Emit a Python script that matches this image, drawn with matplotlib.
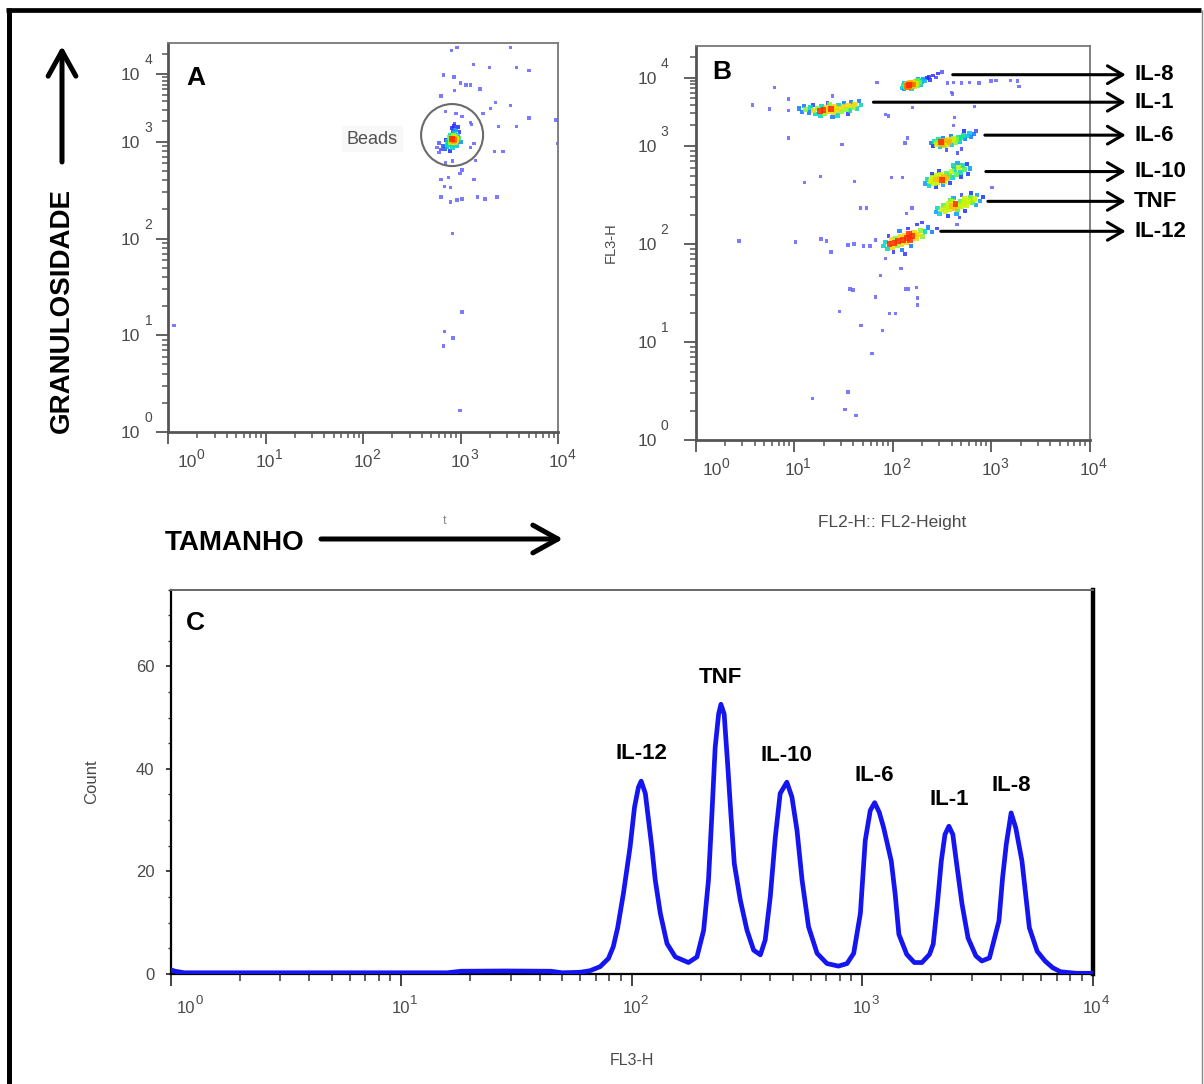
import numpy as np
import matplotlib
matplotlib.use("Agg")
import matplotlib.pyplot as plt
from matplotlib import ticker, transforms
from matplotlib.colors import LinearSegmentedColormap
from matplotlib.lines import Line2D
from matplotlib.patches import Circle, FancyArrowPatch

plt.rcParams['font.family'] = ['Liberation Sans', 'DejaVu Sans']

# ---------------------------------------------------------------------------
# data (log10 units for the dot plots and the histogram channel)
# ---------------------------------------------------------------------------

# A: bead gate, FSC x SSC
beads_core = np.array([
    [2.93, 3.03], [2.94, 3.05], [2.92, 3.01], [2.95, 3.07], [2.91, 3.04], [2.93, 3.09],
    [2.96, 3.02], [2.90, 2.99], [2.94, 3.12], [2.92, 3.15], [2.95, 3.18], [2.91, 3.20],
    [2.93, 3.24], [2.90, 3.10], [2.97, 3.10], [2.89, 3.06], [2.88, 2.97], [2.86, 2.95],
    [2.84, 2.93], [2.87, 3.01], [2.82, 2.96], [2.80, 2.92], [2.98, 3.05], [3.00, 3.00],
    [2.96, 2.96], [2.89, 2.91], [2.85, 3.03], [2.94, 3.27], [2.97, 3.22], [2.99, 3.14],
    [2.92, 2.94], [2.78, 2.99], [2.95, 2.99], [2.91, 3.07], [2.94, 3.00], [2.92, 3.05],
    [2.96, 3.04], [2.93, 2.98],
])
beads_other = np.array([
    [2.908, 4.35], [2.963, 4.39], [3.515, 4.39], [3.136, 4.14], [3.30, 4.10], [3.573, 4.10],
    [3.703, 4.05], [2.826, 3.99], [2.932, 3.96], [2.998, 3.87], [3.058, 3.84], [3.105, 3.84],
    [2.94, 3.76], [3.199, 3.78], [2.798, 3.675], [3.356, 3.58], [3.515, 3.54], [3.31, 3.49],
    [2.849, 3.45], [3.231, 3.42], [3.703, 3.35], [3.978, 3.32], [3.388, 3.23], [3.577, 3.23],
    [3.101, 3.29], [3.14, 2.98], [3.349, 2.90], [3.436, 2.90], [3.998, 2.98], [3.153, 2.81],
    [2.995, 2.67], [3.14, 2.61], [2.798, 2.61], [2.837, 2.54], [2.897, 2.53], [2.798, 2.43],
    [2.897, 2.38], [2.963, 2.40], [3.172, 2.43], [3.25, 2.41], [3.373, 2.43], [3.015, 2.41],
    [2.916, 2.05], [3.015, 1.24], [2.837, 1.04], [2.924, 0.97], [2.826, 0.89], [2.995, 0.22],
    [0.063, 1.10], [2.955, 3.42], [3.015, 3.37], [3.113, 3.26], [2.778, 2.89], [2.759, 2.94],
    [2.849, 2.78], [2.916, 2.80], [3.105, 2.94], [3.015, 2.71], [2.877, 2.63],
])
gate_center = (820, 1260)   # FSC, SSC of the bead gate
gate_radius_in = 0.31

# B: FL2-H x FL3-H, one bead population per cytokine
il8_pts = np.array([
    [2.10, 3.85], [2.11, 3.89], [2.12, 3.83], [2.13, 3.87], [2.14, 3.90], [2.14, 3.85],
    [2.15, 3.88], [2.16, 3.86], [2.16, 3.91], [2.17, 3.89], [2.18, 3.87], [2.18, 3.92],
    [2.19, 3.90], [2.20, 3.88], [2.20, 3.93], [2.21, 3.90], [2.22, 3.91], [2.22, 3.87],
    [2.23, 3.94], [2.24, 3.91], [2.25, 3.89], [2.25, 3.95], [2.27, 3.93], [2.28, 3.96],
    [2.30, 3.94], [2.31, 3.98], [2.33, 3.95], [2.35, 3.99], [2.37, 4.01], [2.38, 3.96],
    [2.41, 4.03], [2.44, 4.00], [2.46, 4.06], [2.50, 4.08], [2.19, 3.84], [2.26, 3.98],
    [2.12, 3.92], [2.29, 3.90],
])
il8_tail = np.array([
    [2.56, 3.92], [2.62, 3.93], [2.70, 3.92], [2.78, 3.93], [2.88, 3.92], [3.05, 3.96],
    [3.20, 3.96], [3.27, 3.95], [2.60, 3.78],
])
il1_pts = np.array([
    [1.05, 3.55], [1.08, 3.50], [1.10, 3.58], [1.12, 3.53], [1.15, 3.49], [1.17, 3.56],
    [1.20, 3.52], [1.22, 3.47], [1.24, 3.55], [1.26, 3.51], [1.28, 3.58], [1.30, 3.53],
    [1.31, 3.48], [1.33, 3.56], [1.35, 3.51], [1.36, 3.60], [1.38, 3.54], [1.40, 3.49],
    [1.41, 3.57], [1.43, 3.52], [1.45, 3.60], [1.46, 3.55], [1.48, 3.50], [1.50, 3.58],
    [1.51, 3.63], [1.53, 3.54], [1.55, 3.59], [1.57, 3.52], [1.58, 3.64], [1.60, 3.57],
    [1.62, 3.61], [1.64, 3.55], [1.66, 3.66], [1.68, 3.60], [1.27, 3.45], [1.44, 3.45],
    [1.34, 3.63], [1.19, 3.60], [1.39, 3.43], [1.55, 3.47],
])
il6_pts = np.array([
    [2.39, 3.04], [2.41, 3.00], [2.43, 3.07], [2.45, 3.02], [2.46, 3.05], [2.48, 2.99],
    [2.49, 3.06], [2.50, 3.03], [2.52, 3.08], [2.53, 3.01], [2.54, 3.05], [2.56, 3.03],
    [2.57, 3.09], [2.58, 3.06], [2.60, 3.02], [2.61, 3.08], [2.62, 3.11], [2.64, 3.05],
    [2.65, 3.10], [2.67, 3.13], [2.68, 3.07], [2.70, 3.12], [2.72, 3.16], [2.74, 3.10],
    [2.76, 3.15], [2.78, 3.19], [2.80, 3.13], [2.83, 3.18], [2.85, 3.22], [2.55, 2.96],
    [2.66, 2.93], [2.62, 3.30], [2.70, 2.97], [2.51, 3.12], [2.59, 3.14], [2.73, 3.22],
    [2.47, 3.10],
])
il10_pts = np.array([
    [2.33, 2.62], [2.35, 2.66], [2.37, 2.60], [2.39, 2.64], [2.41, 2.68], [2.42, 2.62],
    [2.44, 2.66], [2.45, 2.70], [2.46, 2.63], [2.48, 2.67], [2.49, 2.71], [2.50, 2.65],
    [2.52, 2.69], [2.53, 2.64], [2.55, 2.72], [2.56, 2.67], [2.58, 2.70], [2.60, 2.74],
    [2.61, 2.68], [2.63, 2.76], [2.65, 2.71], [2.67, 2.78], [2.69, 2.73], [2.71, 2.80],
    [2.73, 2.76], [2.76, 2.82], [2.79, 2.77], [2.44, 2.58], [2.51, 2.60], [2.58, 2.62],
    [2.66, 2.83], [2.70, 2.68], [2.40, 2.72], [2.47, 2.75], [2.62, 2.80], [2.77, 2.72],
])
tnf_pts = np.array([
    [2.44, 2.33], [2.46, 2.37], [2.48, 2.31], [2.50, 2.35], [2.52, 2.39], [2.54, 2.33],
    [2.55, 2.37], [2.57, 2.41], [2.58, 2.35], [2.60, 2.39], [2.61, 2.43], [2.63, 2.37],
    [2.64, 2.41], [2.66, 2.35], [2.67, 2.39], [2.69, 2.43], [2.70, 2.38], [2.72, 2.42],
    [2.73, 2.46], [2.75, 2.40], [2.77, 2.44], [2.79, 2.48], [2.81, 2.42], [2.83, 2.46],
    [2.86, 2.50], [2.89, 2.44], [2.92, 2.48], [2.56, 2.29], [2.65, 2.31], [2.74, 2.34],
    [2.62, 2.47], [2.70, 2.50], [2.80, 2.52], [2.59, 2.45], [2.68, 2.27], [2.85, 2.40],
])
il12_pts = np.array([
    [1.91, 1.98], [1.93, 2.02], [1.95, 1.95], [1.97, 2.00], [1.99, 2.04], [2.00, 1.97],
    [2.02, 2.01], [2.03, 2.06], [2.05, 1.99], [2.06, 2.03], [2.08, 2.07], [2.09, 2.00],
    [2.11, 2.04], [2.12, 2.09], [2.14, 2.02], [2.15, 2.06], [2.17, 2.10], [2.18, 2.04],
    [2.20, 2.08], [2.22, 2.12], [2.24, 2.06], [2.26, 2.10], [2.28, 2.14], [2.30, 2.08],
    [2.33, 2.13], [2.36, 2.17], [2.40, 2.12], [2.45, 2.16], [2.01, 1.92], [2.10, 1.94],
    [2.19, 1.98], [2.07, 2.13], [2.16, 2.16], [2.25, 2.20], [1.96, 2.08], [2.13, 1.90],
    [2.30, 2.22],
])
b_other = np.array([
    [0.805, 3.858], [0.577, 3.60], [0.754, 3.54], [0.942, 3.69], [0.942, 3.52], [1.393, 3.73],
    [0.942, 3.12], [1.487, 3.02], [1.844, 3.93], [1.93, 3.46], [1.96, 3.44], [2.205, 3.56],
    [2.609, 3.76], [2.833, 3.58], [3.284, 3.87], [2.999, 3.95], [2.154, 3.12], [2.127, 3.045],
    [1.105, 2.63], [1.271, 2.69], [1.614, 2.64], [1.989, 2.68], [2.099, 2.68], [3.009, 2.58],
    [1.675, 2.37], [1.734, 2.37], [2.144, 2.31], [2.197, 2.37], [2.656, 2.20], [0.44, 2.03],
    [1.016, 2.02], [1.275, 2.05], [1.329, 2.03], [1.374, 1.92], [1.55, 1.99], [1.609, 2.00],
    [1.706, 1.98], [1.773, 1.98], [1.828, 2.04], [1.93, 1.85], [2.088, 1.75], [1.569, 1.54],
    [1.60, 1.53], [2.133, 1.54], [2.164, 1.54], [2.245, 1.555], [2.251, 1.45], [2.251, 1.38],
    [1.828, 1.46], [1.879, 1.68], [1.459, 1.31], [1.97, 1.29], [2.028, 1.29], [1.679, 1.17],
    [1.90, 1.12], [1.793, 0.885], [1.188, 0.424], [1.55, 0.49], [1.518, 0.31], [1.628, 0.25],
    [2.628, 3.42],
])
b_names = ['IL-8', 'IL-1', 'IL-6', 'IL-10', 'TNF', 'IL-12']
b_arrow_from = [409, 64, 867, 887, 930, 309]     # FL2-H where each arrow starts
b_arrow_level = [11000, 4370, 1445, 550, 273, 135]  # FL3-H of each arrow

# C: FL3-H histogram
hist_log = [0.00, 0.02, 0.06, 0.60, 1.20, 1.26, 1.45, 1.65, 1.70, 1.777, 1.82, 1.864, 1.90,
            1.921, 1.94, 1.965, 1.994, 2.013, 2.030, 2.042, 2.060, 2.074, 2.088, 2.103, 2.125,
            2.154, 2.190, 2.247, 2.284, 2.313, 2.334, 2.349, 2.363, 2.378, 2.388, 2.402, 2.417,
            2.431, 2.446, 2.472, 2.501, 2.530, 2.559, 2.580, 2.602, 2.624, 2.645, 2.674, 2.696,
            2.718, 2.740, 2.768, 2.805, 2.848, 2.898, 2.935, 2.964, 2.993, 3.014, 3.036, 3.055,
            3.075, 3.094, 3.127, 3.144, 3.160, 3.194, 3.227, 3.260, 3.293, 3.309, 3.327, 3.344,
            3.360, 3.377, 3.394, 3.409, 3.434, 3.460, 3.494, 3.520, 3.553, 3.594, 3.610, 3.626,
            3.647, 3.667, 3.694, 3.710, 3.726, 3.760, 3.794, 3.827, 3.861, 3.930, 4.000]
hist_count = [0.8, 0.5, 0.2, 0.2, 0.2, 0.5, 0.55, 0.5, 0.2, 0.3, 0.6, 1.4, 3.0,
              5.3, 9.0, 15.7, 24.8, 32.5, 36.4, 37.6, 35.2, 30.0, 24.8, 18.3, 11.8,
              5.9, 3.3, 2.2, 3.3, 8.5, 18.3, 31.3, 44.2, 50.7, 52.6, 50.7, 41.0,
              31.3, 21.5, 14.4, 8.5, 4.6, 3.7, 6.6, 15.0, 26.7, 35.2, 37.4, 34.5,
              28.0, 18.3, 9.2, 4.0, 2.0, 1.5, 2.0, 4.0, 11.8, 26.0, 31.9, 33.4,
              31.5, 28.5, 22.0, 15.5, 7.7, 3.8, 2.2, 2.2, 3.8, 5.8, 13.6, 22.0,
              27.2, 28.8, 27.2, 22.0, 13.6, 7.0, 3.5, 2.5, 3.1, 10.3, 18.8, 25.3,
              31.4, 28.5, 22.0, 15.5, 9.0, 4.4, 2.5, 1.2, 0.4, 0.1, 0.1]
c_names = ['IL-12', 'TNF', 'IL-10', 'IL-6', 'IL-1', 'IL-8']

# ---------------------------------------------------------------------------
W, H = 1204, 1084
PT = 0.72           # points per pixel at 100 dpi
GRAY = '#4a4a4a'
TOP_SQUEEZE = 0.7   # the decade above 10^3 is drawn shorter on the FL3/SSC axes
DECADES = [1, 10, 100, 1000, 10000]


def fwd(v):
    lv = np.log10(np.clip(v, 1e-3, None))
    return np.where(lv <= 3, lv, 3 + TOP_SQUEEZE * (lv - 3))


def inv(d):
    return 10 ** np.where(d <= 3, d, 3 + (d - 3) / TOP_SQUEEZE)


def px(x, y):
    return x / W, 1 - y / H


flow_cmap = LinearSegmentedColormap.from_list(
    'flow', ['#6464ff', '#2020ff', '#00b4ff', '#00e890', '#b4ff00', '#ffd000', '#ff2a00'])


def density_scatter(ax, clusters, loose):
    # colour each population by its own local event density
    xs, ys, dens = [], [], []
    for pts in clusters:
        d = pts[:, None, :] - pts[None, :, :]
        n = (np.hypot(d[..., 0], d[..., 1]) < 0.065).sum(axis=1) - 1
        xs.append(pts[:, 0]); ys.append(pts[:, 1]); dens.append((n / n.max()) ** 1.2)
    xs.append(loose[:, 0]); ys.append(loose[:, 1]); dens.append(np.zeros(len(loose)))
    xs, ys, dens = np.concatenate(xs), np.concatenate(ys), np.concatenate(dens)
    order = np.argsort(dens)
    ax.scatter(10 ** xs[order], 10 ** ys[order], c=flow_cmap(dens[order]),
               s=6 + 12 * dens[order], marker='s', linewidths=0, alpha=0.85, zorder=2)


def shift_xlabels(ax, first_px):
    lab = ax.get_xticklabels()[0]
    lab.set_transform(lab.get_transform() +
                      transforms.ScaledTranslation(first_px / fig.dpi, 0, fig.dpi_scale_trans))


def exponents(ax, axis, dx, dy, size, first_dx=None):
    # "10" comes from the tick label, the exponent is set as a large superscript
    for k, v in enumerate(DECADES):
        if axis == 'x':
            xy, xyc = (v, 0), ax.get_xaxis_transform()
        else:
            xy, xyc = (0, v), ax.get_yaxis_transform()
        off = first_dx if (k == 0 and first_dx is not None) else dx
        ax.annotate(str(k), xy=xy, xycoords=xyc, xytext=(off * PT, dy * PT),
                    textcoords='offset points', ha='left', va='baseline', fontsize=size,
                    color=GRAY, annotation_clip=False)


def log_x(ax):
    ax.set_xscale('log')
    ax.xaxis.set_major_locator(ticker.FixedLocator(DECADES))
    ax.xaxis.set_minor_locator(ticker.FixedLocator(
        [m * 10 ** k for k in range(4) for m in range(2, 10)]))
    ax.xaxis.set_major_formatter(ticker.FixedFormatter(['10'] * 5))
    ax.xaxis.set_minor_formatter(ticker.NullFormatter())
    ax.set_xlim(1, 1e4)


def dot_axes(ax, ypad, xpad):
    log_x(ax)
    ax.set_yscale('function', functions=(fwd, inv))
    ax.yaxis.set_major_locator(ticker.FixedLocator(DECADES))
    ax.yaxis.set_minor_locator(ticker.FixedLocator(
        [m * 10 ** k for k in range(5) for m in range(2, 10) if m * 10 ** k < 10 ** 4.46]))
    ax.yaxis.set_major_formatter(ticker.FixedFormatter(['10'] * 5))
    ax.yaxis.set_minor_formatter(ticker.NullFormatter())
    ax.tick_params(which='major', direction='out', length=8.6, width=1.3, color='#555555',
                   labelcolor=GRAY, labelsize=12.6)
    ax.tick_params(which='minor', direction='out', length=4.5, width=1.1, color='#555555')
    ax.tick_params(axis='y', pad=ypad)
    ax.tick_params(axis='x', pad=xpad)
    for side in ('left', 'bottom'):
        ax.spines[side].set_color('#555555')
        ax.spines[side].set_linewidth(2.0)
    for side in ('top', 'right'):
        ax.spines[side].set_color('#777777')
        ax.spines[side].set_linewidth(1.3)
    ax.set_ylim(1, 10 ** 4.46)


fig = plt.figure(figsize=(W / 100, H / 100), dpi=100)

# ---------------- A -------------------------------------------------------
axA = fig.add_axes([168 / W, 1 - 432 / H, 390 / W, 389 / H])
density_scatter(axA, [beads_core], beads_other)
gate_tr = fig.dpi_scale_trans + transforms.ScaledTranslation(*gate_center, axA.transData)
axA.add_patch(Circle((0, 0), gate_radius_in, transform=gate_tr, fill=False,
                     ec='#6a6a6a', lw=1.5, zorder=3))
axA.text(125, 1100, 'Beads', fontsize=13, color='#505050', ha='center', va='center',
         bbox=dict(boxstyle='square,pad=0.25', fc='#f8f8f8', ec='none'))
dot_axes(axA, ypad=16 * PT, xpad=11.5 * PT)
exponents(axA, 'x', dx=9.5, dy=-27.5, size=10, first_dx=28.5)
exponents(axA, 'y', dx=-23.5, dy=10, size=10)
axA.text(0.072, 0.911, 'A', transform=axA.transAxes, fontsize=19, fontweight='bold',
         ha='center', va='center')
shift_xlabels(axA, 19)

# ---------------- B -------------------------------------------------------
axB = fig.add_axes([695.5 / W, 1 - 440 / H, 394 / W, 394 / H])
density_scatter(axB, [il8_pts, il1_pts, il6_pts, il10_pts, tnf_pts, il12_pts],
                np.vstack([il8_tail, b_other]))
dot_axes(axB, ypad=26.5 * PT, xpad=10.7 * PT)
exponents(axB, 'x', dx=9.5, dy=-27.5, size=10, first_dx=26.5)
exponents(axB, 'y', dx=-35, dy=10, size=10)
axB.set_ylabel('FL3-H', fontsize=10.5, color=GRAY)
axB.yaxis.set_label_coords(-0.197, 0.5)
axB.set_xlabel('FL2-H:: FL2-Height', fontsize=12.5, color=GRAY)
axB.xaxis.set_label_coords(0.5, -0.19)
axB.text(0.067, 0.935, 'B', transform=axB.transAxes, fontsize=19, fontweight='bold',
         ha='center', va='center')
for name, x0, y0 in zip(b_names, b_arrow_from, b_arrow_level):
    axB.annotate('', xy=(1.092, y0), xycoords=axB.get_yaxis_transform(),
                 xytext=(x0, y0), textcoords='data', annotation_clip=False,
                 arrowprops=dict(arrowstyle='->,head_length=0.55,head_width=0.32',
                                 mutation_scale=20, lw=2.2, color='black',
                                 shrinkA=0, shrinkB=0))
    axB.text(1.113, y0, name, transform=axB.get_yaxis_transform(), fontsize=16,
             fontweight='bold', ha='left', va='center')
shift_xlabels(axB, 17)

# ---------------- C -------------------------------------------------------
axC = fig.add_axes([170.5 / W, 1 - 973.8 / H, 922 / W, 384.3 / H])
hx = 10 ** np.array(hist_log)
hy = np.array(hist_count)
axC.plot(hx, hy, color='#1515f2', lw=3.4, solid_joinstyle='round', zorder=3)
log_x(axC)
axC.set_ylim(0, 75)
axC.yaxis.set_major_locator(ticker.FixedLocator([0, 20, 40, 60]))
axC.yaxis.set_minor_locator(ticker.MultipleLocator(5))
axC.tick_params(which='major', direction='out', width=1.3, color='#333333',
                labelcolor=GRAY, labelsize=12)
axC.tick_params(axis='x', which='major', length=8.6, pad=15 * PT)
axC.tick_params(axis='y', which='major', length=3.6, pad=8)
axC.tick_params(axis='x', which='minor', direction='out', length=5, width=1.1, color='#333333')
axC.tick_params(axis='y', which='minor', direction='out', length=2.2, width=1.0, color='#333333')
exponents(axC, 'x', dx=9, dy=-30, size=9.5, first_dx=25)
axC.spines['left'].set_linewidth(1.6)
axC.spines['bottom'].set_linewidth(1.6)
axC.spines['top'].set_color('#666666')
axC.spines['top'].set_linewidth(1.4)
axC.spines['right'].set_linewidth(3.2)
axC.set_ylabel('Count', fontsize=12, color=GRAY)
axC.yaxis.set_label_coords(-0.0776, 0.5)
axC.set_xlabel('FL3-H', fontsize=11.5, color=GRAY)
axC.xaxis.set_label_coords(0.5, -0.205)
axC.text(0.0266, 0.913, 'C', transform=axC.transAxes, fontsize=19, fontweight='bold',
         ha='center', va='center')
peaks = [i for i in range(1, len(hy) - 1)
         if hy[i] > 20 and hy[i] >= hy[i - 1] and hy[i] > hy[i + 1]]
for name, i in zip(c_names, peaks):
    axC.text(hx[i], hy[i] + 5.3, name, fontsize=16, fontweight='bold', ha='center', va='center')
shift_xlabels(axC, 16)

# ---------------- figure-level annotations --------------------------------
fig.text(*px(61.5, 311), 'GRANULOSIDADE', rotation=90, fontsize=20, fontweight='bold',
         ha='center', va='center')
fig.text(*px(235, 543), 'TAMANHO', fontsize=20, fontweight='bold', ha='center', va='center')
fig.text(*px(445, 521), 't', fontsize=9, color='#888888', ha='center', va='center')
for start, end in (((62, 162), (62, 46)), ((321, 539), (563, 539))):
    fig.add_artist(FancyArrowPatch(px(*start), px(*end), transform=fig.transFigure,
                                   arrowstyle='->,head_length=0.9,head_width=0.5',
                                   mutation_scale=20, lw=3.6, color='black',
                                   shrinkA=0, shrinkB=0))

# outer frame
fig.add_artist(Line2D([6 / W, 1201 / W], [1 - 9.5 / H] * 2, transform=fig.transFigure,
                      color='black', lw=3.4, solid_capstyle='butt'))
fig.add_artist(Line2D([8.5 / W] * 2, [1 - 7.5 / H, 0], transform=fig.transFigure,
                      color='black', lw=3.6, solid_capstyle='butt'))
fig.add_artist(Line2D([1202 / W] * 2, [1 - 9.5 / H, 0], transform=fig.transFigure,
                      color='#888888', lw=1.0, solid_capstyle='butt'))

fig.savefig('out.png', dpi=100, facecolor='white')
